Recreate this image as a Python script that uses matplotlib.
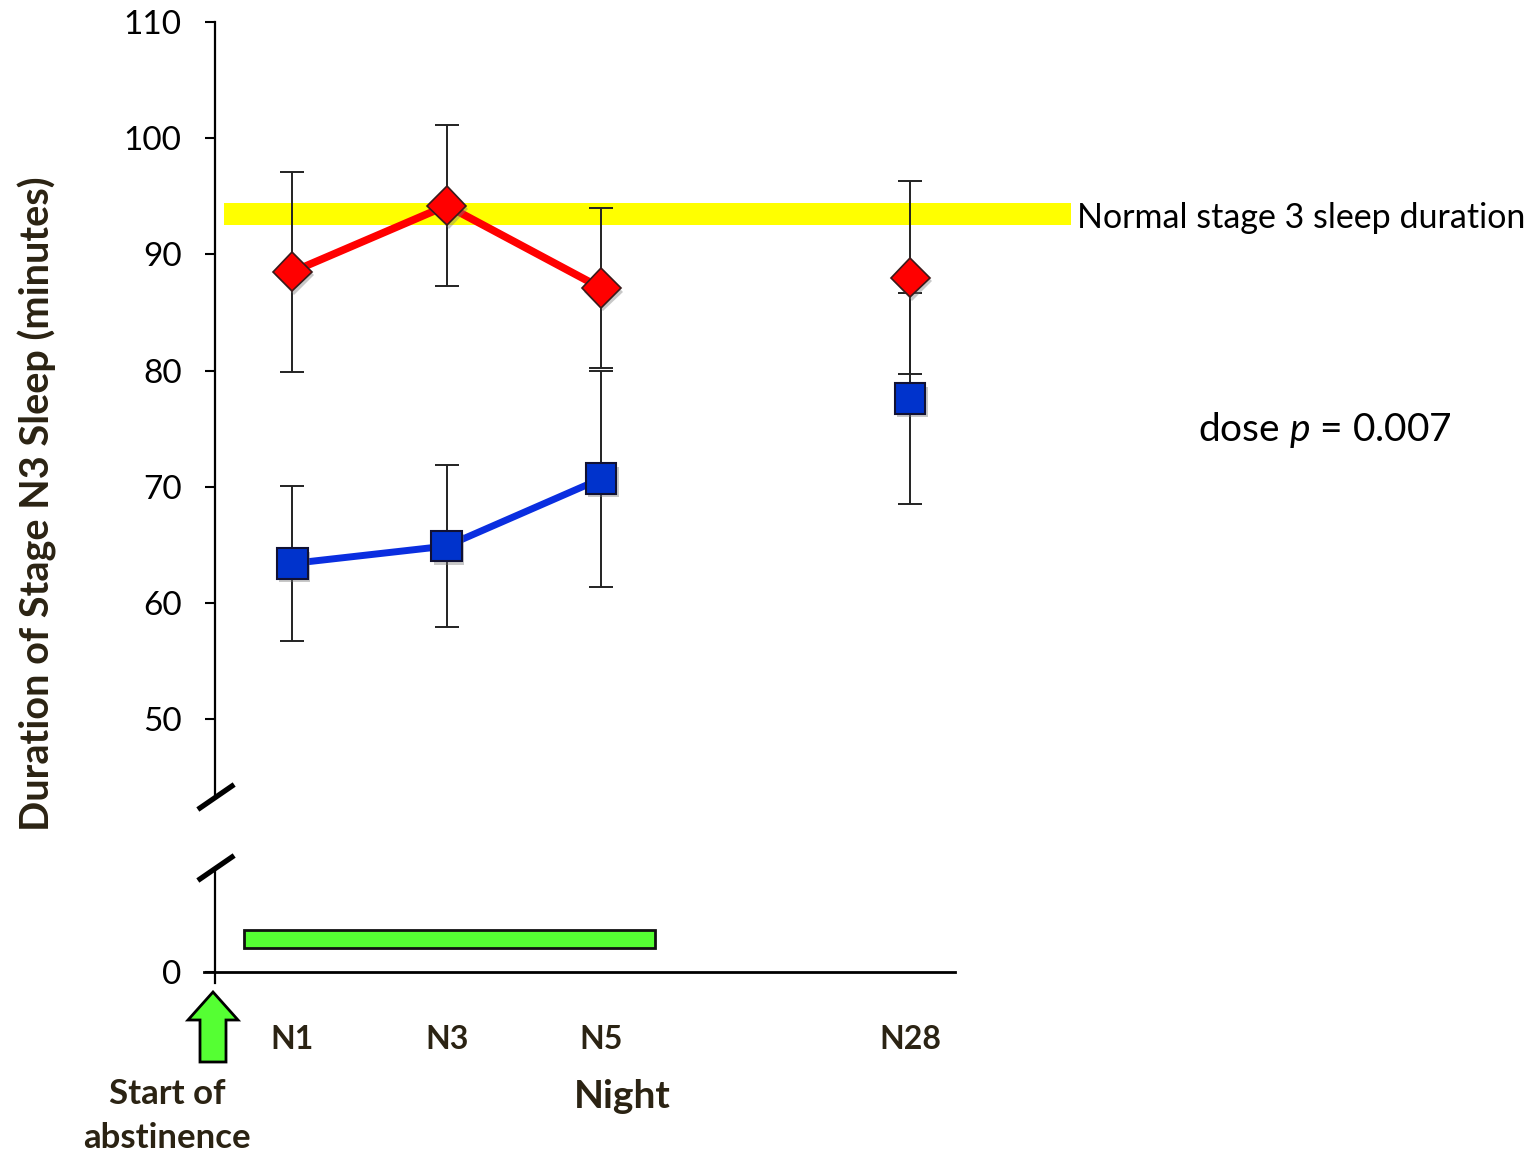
import matplotlib
matplotlib.use('Agg')
import matplotlib.pyplot as plt
import matplotlib.patheffects as pe
from matplotlib.patches import Polygon, Rectangle
import numpy as np

plt.rcParams['font.family'] = ['Lato', 'DejaVu Sans']
plt.rcParams['mathtext.fontset'] = 'custom'
plt.rcParams['mathtext.it'] = 'Lato:italic'
plt.rcParams['mathtext.rm'] = 'Lato'

# dados
noites = ['N1', 'N3', 'N5', 'N28']
posicoes = [1, 2, 3, 5]
alta_dose = [88.5, 94.2, 87.1, 88.0]
alta_erro = [8.6, 6.9, 6.9, 8.3]
baixa_dose = [63.4, 64.9, 70.7, 77.6]
baixa_erro = [6.7, 7.0, 9.3, 9.1]
faixa_normal = (92.5, 94.4)
faixa_x = (0.56, 6.04)
abstinencia_x = (0.69, 3.35)

cor_texto = '#2b2313'

fig = plt.figure(figsize=(15.4, 11.55), dpi=100)
ax = fig.add_axes([215/1540, 1-797/1155, 740/1540, (797-22)/1155])
ax2 = fig.add_axes([215/1540, 1-983/1155, 740/1540, (983-868)/1155])

xlim = (0.5, 5.29)

# painel superior
ax.set_xlim(*xlim)
ax.set_ylim(43.3, 110)
ax.set_yticks(np.arange(50, 111, 10))
ax.spines['left'].set_bounds(43.3, 110)
for s in ['top', 'right', 'bottom']:
    ax.spines[s].set_visible(False)
ax.spines['left'].set_linewidth(1.6)
ax.set_xticks([])
ax.tick_params(axis='y', direction='out', length=7, width=1.5, pad=17, labelsize=24)

# faixa amarela
ax.fill_between(list(faixa_x), faixa_normal[0], faixa_normal[1], color='#ffff00',
                lw=0, zorder=1, clip_on=False)
ax.text(faixa_x[1] + 0.04, np.mean(faixa_normal) - 0.3, 'Normal stage 3 sleep duration',
        fontsize=24.5, va='center', ha='left')

sombra = [pe.SimplePatchShadow(offset=(1.5, -2.5), shadow_rgbFace='#777777', alpha=0.4), pe.Normal()]

# linhas (N1-N5)
ax.plot(posicoes[:3], alta_dose[:3], color='#ff0000', lw=5.5, zorder=3)
ax.plot(posicoes[:3], baixa_dose[:3], color='#0a2ee0', lw=5, zorder=3)

ax.errorbar(posicoes, alta_dose, yerr=alta_erro, fmt='none', ecolor='#222222',
            elinewidth=1.4, capsize=8.5, capthick=1.4, zorder=2)
ax.errorbar(posicoes, baixa_dose, yerr=baixa_erro, fmt='none', ecolor='#222222',
            elinewidth=1.4, capsize=8.5, capthick=1.4, zorder=2)

ax.plot(posicoes, alta_dose, ls='none', marker='D', ms=20, mfc='#ff0000', mec='#3a1a1a',
        mew=1.2, zorder=4, path_effects=sombra)
ax.plot(posicoes, baixa_dose, ls='none', marker='s', ms=22, mfc='#0033cc', mec='#111133',
        mew=1.5, zorder=4, path_effects=sombra)

ax.text(6.86, 74.9, 'dose $p$ = 0.007', fontsize=28, ha='left', va='center')

# painel inferior
ax2.set_xlim(*xlim)
ax2.set_ylim(-0.11, 1.04)
ax2.spines['bottom'].set_position(('data', 0))
for s in ['top', 'right']:
    ax2.spines[s].set_visible(False)
ax2.spines['left'].set_linewidth(1.6)
ax2.spines['bottom'].set_linewidth(2)
ax2.spines['bottom'].set_bounds(0.43, xlim[1])
ax2.set_yticks([0])
ax2.tick_params(axis='y', direction='out', length=7, width=1.5, pad=17, labelsize=24)
ax2.set_xticks(posicoes)
ax2.set_xticklabels(noites, fontsize=23, fontweight='bold', color=cor_texto)
ax2.tick_params(axis='x', length=0, pad=38)

ax2.add_patch(Rectangle((abstinencia_x[0], 0.24), abstinencia_x[1] - abstinencia_x[0], 0.18,
                        facecolor='#55ff33', edgecolor='#111111', lw=2, zorder=3))

# marcas de quebra do eixo
for yb in [797, 868]:
    y = (1155 - yb) / 100
    fig.add_artist(plt.Line2D([2.00, 2.32], [y - 0.11, y + 0.11], color='black', lw=3.8,
                              transform=fig.dpi_scale_trans))

# seta verde
cx, yb, yt = 2.13, (1155 - 1062) / 100, (1155 - 992) / 100
seta = [(cx - 0.13, yb), (cx + 0.13, yb), (cx + 0.13, yt - 0.28), (cx + 0.25, yt - 0.28),
        (cx, yt), (cx - 0.25, yt - 0.28), (cx - 0.13, yt - 0.28)]
fig.add_artist(Polygon(seta, closed=True, facecolor='#55ff33', edgecolor='black', lw=2,
                       transform=fig.dpi_scale_trans))

fig.text(167/1540, 1-1116/1155, 'Start of\nabstinence', fontsize=25, fontweight='bold',
         color=cor_texto, ha='center', va='center', linespacing=1.45)
fig.text(622/1540, 1-1096/1155, 'Night', fontsize=28, fontweight='bold',
         color=cor_texto, ha='center', va='center')
fig.text(37/1540, 1-504/1155, 'Duration of Stage N3 Sleep (minutes)', fontsize=28.5,
         fontweight='bold', color=cor_texto, ha='center', va='center', rotation=90)

fig.savefig('out.png', dpi=100)
